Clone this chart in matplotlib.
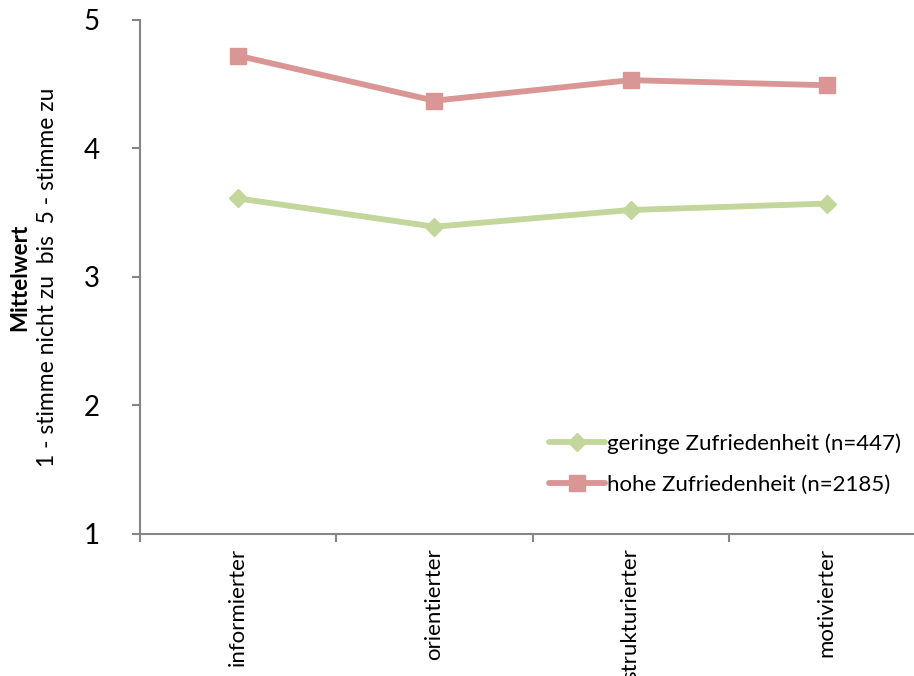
import matplotlib
matplotlib.use('Agg')
from matplotlib import pyplot as plt

categories = ['informierter', 'orientierter', 'strukturierter', 'motivierter']
geringe = [3.61, 3.39, 3.52, 3.57]
hohe = [4.72, 4.37, 4.53, 4.49]
label_geringe = 'geringe Zufriedenheit (n=447)'
label_hohe = 'hohe Zufriedenheit (n=2185)'
ylabel_bold = 'Mittelwert'
ylabel_text = '1 - stimme nicht zu  bis  5 - stimme zu'

plt.rcParams['font.family'] = ['Lato', 'DejaVu Sans']

W, H = 914, 676
fig = plt.figure(figsize=(W / 100, H / 100), dpi=100)
# axes runs past the right edge of the picture, as in the reference
left, right, top, bottom = 140, 925, 19.7, 534
ax = fig.add_axes([left / W, (H - bottom) / H, (right - left) / W, (bottom - top) / H])

x = list(range(len(categories)))
ax.plot(x, geringe, color='#C3D69B', linewidth=4.2, marker='D', markersize=9.5,
        label=label_geringe, solid_capstyle='round')
ax.plot(x, hohe, color='#D99694', linewidth=4.2, marker='s', markersize=12,
        label=label_hohe, solid_capstyle='round')

ax.set_xlim(-0.5, 3.5)
ax.set_ylim(1, 5)
ax.set_yticks([1, 2, 3, 4, 5])
ax.tick_params(axis='y', labelsize=20, length=6, width=1.5, color='#868686', pad=23)

ax.set_xticks([-0.5, 0.5, 1.5, 2.5])
ax.set_xticklabels([])
ax.set_xticks(x, minor=True)
ax.set_xticklabels(categories, minor=True, rotation=90, va='top', fontsize=16)
ax.tick_params(axis='x', which='major', length=6, width=1.5, color='#868686')
ax.tick_params(axis='x', which='minor', length=0, pad=10)

for side in ['top', 'right']:
    ax.spines[side].set_visible(False)
for side in ['left', 'bottom']:
    ax.spines[side].set_color('#868686')
    ax.spines[side].set_linewidth(1.5)

ymid = 1 - 277 / H
fig.text(20 / W, ymid, ylabel_bold, rotation=90, ha='center', va='center', fontsize=16, fontweight='bold')
fig.text(48 / W, ymid, ylabel_text, rotation=90, ha='center', va='center', fontsize=16.5)

leg = ax.legend(loc='upper left', bbox_to_anchor=(549 / W, 1 - 433 / H), bbox_transform=fig.transFigure,
                frameon=False, fontsize=16, handlelength=2.5, handletextpad=0.1, labelspacing=0.95,
                borderpad=0, borderaxespad=0)

fig.savefig('out.png', dpi=100)
